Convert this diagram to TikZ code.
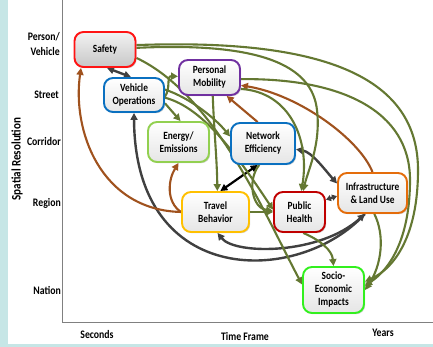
\documentclass[tikz,border=0pt]{standalone}
\usepackage{fontspec}
\setmainfont{Carlito}[FakeStretch=0.85]
\usetikzlibrary{arrows.meta,shadows,backgrounds}
\definecolor{colOlive}{RGB}{100,120,50}
\definecolor{colBrown}{RGB}{160,82,30}
\definecolor{colGray}{RGB}{64,64,64}
\definecolor{colCyan}{RGB}{198,230,230}
\definecolor{colAxis}{RGB}{128,128,128}
\definecolor{colRed}{RGB}{255,20,20}
\definecolor{colBlue}{RGB}{10,112,192}
\definecolor{colPurple}{RGB}{112,48,160}
\definecolor{colLGreen}{RGB}{146,208,80}
\definecolor{colGold}{RGB}{255,192,0}
\definecolor{colDRed}{RGB}{192,0,0}
\definecolor{colOrange}{RGB}{228,108,10}
\definecolor{colLime}{RGB}{50,240,30}
\begin{document}
\begin{tikzpicture}[x=1pt,y=-1pt,
  >={Triangle[length=7pt,width=7pt]},
  box/.style={draw, line width=1.9pt, rounded corners=9pt, align=center,
    font=\fontsize{11}{13}\selectfont\bfseries, inner sep=1pt,
    top color=white, bottom color=black!10,
    drop shadow={shadow xshift=1.2pt,shadow yshift=-1.2pt,opacity=0.35}},
  axlab/.style={font=\fontsize{11.5}{15}\selectfont\bfseries, inner sep=0pt},
  ol/.style={draw=colOlive, line width=2.1pt},
  br/.style={draw=colBrown, line width=2.1pt},
  gr/.style={draw=colGray, line width=2.4pt},
  bk/.style={draw=black, line width=2.2pt}]
\useasboundingbox (0,0) rectangle (433,347);
% nodes
\node[box, draw=colRed, minimum width=61pt, minimum height=35pt, top color=black!5, bottom color=black!22] (safety) at (105,49.5) {Safety};
\node[box, draw=colBlue, minimum width=60pt, minimum height=34pt] (vehops) at (134,95) {Vehicle\\Operations};
\node[box, draw=colPurple, minimum width=61pt, minimum height=35pt] (persmob) at (209.5,77.5) {Personal\\Mobility};
\node[box, draw=colLGreen, minimum width=61pt, minimum height=40pt] (energy) at (178.5,142) {Energy/\\Emissions};
\node[box, draw=colBlue, minimum width=64pt, minimum height=41pt] (neteff) at (263,143.5) {Network\\Efficiency};
\node[box, draw=colGold, minimum width=67pt, minimum height=40pt] (travel) at (215.5,212) {Travel\\Behavior};
\node[box, draw=colDRed, minimum width=51pt, minimum height=40pt] (health) at (299.5,212) {Public\\Health};
\node[box, draw=colOrange, minimum width=69pt, minimum height=40pt] (infra) at (372.5,193) {Infrastructure\\\& Land Use};
\node[box, draw=colLime, minimum width=61pt, minimum height=46pt] (socio) at (333.5,290) {Socio-\\Economic\\Impacts};
% axis labels
\node[axlab, align=right, anchor=east] (lperson) at (60,44.5) {Person/\\Vehicle};
\node[axlab, anchor=east] (lstreet) at (59,94.5) {Street};
\node[axlab, anchor=east] (lcorr) at (61,142) {Corridor};
\node[axlab, anchor=east] (lregion) at (61,203.5) {Region};
\node[axlab, anchor=east] (lnation) at (61,290.5) {Nation};
\node[axlab] (lsec) at (97,334.5) {Seconds};
\node[axlab] (ltime) at (245,336.5) {Time Frame};
\node[axlab] (lyears) at (383,333) {Years};
\node[axlab, font=\fontsize{13}{15}\selectfont\bfseries, rotate=90] (lspatial) at (17,159) {Spatial Resolution};
\begin{scope}[on background layer]
\fill[white] (0,0) rectangle (433,347);
\fill[colCyan] (0,0) rectangle (8,347);
\fill[colCyan] (0,344) rectangle (433,347);
\coordinate (axtop) at (62,0);
\coordinate (axorig) at (62,322);
\coordinate (axright) at (433,322);
\draw[colAxis, line width=1pt] (axtop) -- (axorig) -- (axright);
% gray
\draw[gr,<->] ([xshift=2pt]safety.south) -- ([xshift=-3pt]vehops.north);
\draw[gr,->] (infra.-110) .. controls (300,285) and (135,290) .. (vehops.south);
\draw[gr,<->] ([xshift=2pt]travel.south) .. controls (235,255) and (320,255) .. (infra.-110);
\draw[gr,<->] (neteff.-10) .. controls (312,152) and (325,170) .. (infra.165);
\draw[gr,<->,>={Triangle[length=5pt,width=6pt]}] (health.25) -- (infra.185);
\draw[bk,<->] (neteff.-104) -- (travel.77);
% brown
\draw[br,->] (travel.west) .. controls (100,210) and (72,130) .. ([xshift=-24pt]safety.south);
\draw[br,->] (travel.west) .. controls (166,202) and (168,180) .. (energy.south);
\draw[br,->] (neteff.104) -- (persmob.-47);
\draw[br,->] (infra.north) .. controls (360,140) and (300,95) .. (persmob.-14);
% olive
\draw[ol,->] (safety.8) .. controls (330,38) and (418,80) .. (418,170) .. controls (418,235) and (395,268) .. (socio.15);
\draw[ol,->] (persmob.-3) .. controls (340,78) and (410,110) .. (410,180) .. controls (410,235) and (392,268) .. (socio.8);
\draw[ol,->] (safety.3) .. controls (260,42) and (312,65) .. (317,110) .. controls (321,145) and (308,170) .. (health.80);
\draw[ol,->] (persmob.-20) .. controls (290,92) and (310,140) .. (health.85);
\draw[ol,->] (vehops.-3) .. controls (171,88) and (166,76) .. (persmob.178);
\draw[ol,->] (vehops.-15) -- ([xshift=2pt]energy.north);
\draw[ol,->] (vehops.10) .. controls (190,98) and (215,118) .. (neteff.168);
\draw[ol,->] (safety.-15) .. controls (215,95) and (265,215) .. (socio.170);
\draw[ol,->] (vehops.-5) .. controls (205,108) and (240,160) .. (health.175);
\draw[ol,->] (persmob.-80) .. controls (214,130) and (217,160) .. (travel.85);
\draw[ol,->] (travel.east) -- (health.west);
\draw[ol,->] (neteff.-100) .. controls (247,180) and (252,208) .. (health.178);
\draw[ol,->] (health.-80) .. controls (320,240) and (332,250) .. (socio.north);
\draw[ol,->] (infra.-85) .. controls (385,235) and (382,265) .. (socio.0);
\end{scope}
\end{tikzpicture}
\end{document}
